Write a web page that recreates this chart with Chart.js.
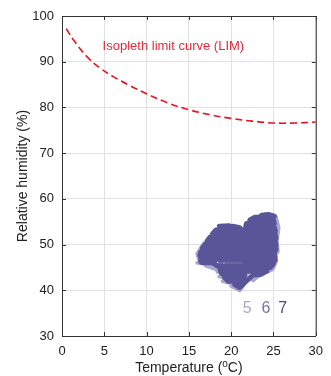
<!DOCTYPE html>
<html>
<head>
<meta charset="utf-8">
<script src="https://cdn.jsdelivr.net/npm/chart.js@4"></script>
<style>
  html, body { margin: 0; padding: 0; background: #fff; }
  #wrap { width: 331px; height: 376px; }
</style>
</head>
<body>
<div id="wrap"><canvas id="myChart" width="331" height="376"></canvas></div>
<script>
// Isopleth limit curve (LIM)
var limTemp = [0.5, 1.5, 3, 4.5, 6, 8, 10, 12.5, 15, 17.5, 20, 22.5, 25, 27.5, 30];
var limRH   = [97.2, 94.4, 91.0, 88.6, 86.8, 84.8, 83.0, 81.0, 79.5, 78.4, 77.6, 77.0, 76.6, 76.6, 76.8];

// measured trajectories, sensors 5, 6, 7
var traj5Temp = [17.6, 16.6, 16.0, 16.2, 18.0, 16.0, 18.4, 17.0, 18.3, 18.4, 21.2, 18.6, 21.0, 19.0, 20.8, 20.0, 21.0, 21.4,
                 21.8, 22.6, 23.2, 24.2, 24.9, 25.3, 23.6, 25.5, 25.4, 25.6, 25.3];
var traj5RH   = [52.0, 49.8, 48.0, 46.8, 47.2, 46.0, 45.6, 45.4, 44.6, 44.0, 44.4, 43.0, 42.6, 42.0, 41.2, 41.0, 40.0, 41.0,
                 43.0, 42.2, 43.2, 44.0, 44.6, 46.4, 45.0, 48.4, 51.0, 53.6, 56.0];

var traj6Temp = [16.4, 16.8, 17.2, 17.6, 18.0, 18.4, 18.8, 19.2, 19.6, 20.0, 20.4, 20.8, 21.1, 21.6, 22.0, 22.4, 22.8, 23.2, 23.6, 24.0, 24.4, 24.8, 25.1, 25.2];
var traj6RH   = [46.2, 49.2, 46.4, 51.4, 46.0, 53.0, 45.2, 53.6, 42.0, 52.0, 41.2, 51.6, 40.8, 50.4, 44.0, 55.4, 43.4, 56.0, 44.0, 56.4, 44.8, 56.2, 46.4, 53.0];

var traj7Temp = [18.6, 19.8, 20.6, 18.2, 17.8, 21.0, 21.4, 17.5, 17.2, 21.8, 21.8, 16.9, 16.6, 21.8, 21.8, 16.4, 16.3, 21.8, 21.8, 16.4, 16.6, 17.8,
                 18.5, 21.9, 21.8, 18.7, 18.9, 21.6, 21.5, 19.2, 19.7, 21.4, 21.2, 20.5, 21.0,
                 22.6, 23.4, 24.2, 22.2, 21.8, 24.6, 25.0, 21.6, 21.6, 25.2, 25.2, 21.6, 21.6, 25.1, 25.3, 21.6, 21.6, 25.3, 25.2, 21.7, 21.7, 25.3,
                 25.2, 21.6, 21.6, 25.2, 25.1, 21.7, 21.8, 25.1, 25.0, 22.2, 22.8, 25.1, 24.4, 23.6,
                 21.4, 21.0, 20.2, 19.4, 19.0];
var traj7RH   = [54.0, 54.1, 53.2, 53.2, 52.4, 52.4, 51.6, 51.6, 50.8, 50.8, 50.0, 50.0, 49.2, 49.2, 48.4, 48.4, 47.6, 47.6, 46.8, 46.8, 46.0, 46.0,
                 45.2, 45.2, 44.4, 44.4, 43.6, 43.6, 42.8, 42.8, 42.0, 42.0, 41.2, 41.2, 40.6,
                 43.4, 43.4, 44.2, 44.2, 45.0, 45.0, 45.8, 45.8, 46.6, 46.6, 47.4, 47.4, 48.2, 48.2, 49.0, 49.0, 49.8, 49.8, 50.6, 50.6, 51.4, 51.4,
                 52.2, 52.2, 53.0, 53.0, 53.8, 53.8, 54.6, 54.6, 55.4, 55.4, 56.0, 56.2, 56.6, 56.4,
                 52.8, 53.7, 54.0, 53.4, 52.4];

var xTicks = [0, 5, 10, 15, 20, 25, 30];
var yTicks = [30, 40, 50, 60, 70, 80, 90, 100];

var sensorLabels = ["5", "6", "7"];
var sensorColors = ["#aaa8d0", "#7773ad", "#4d488c"];
var sensorLabelTemp = [21.9, 24.1, 26.1];
var sensorLabelRH = 35.9;

function toPoints(xs, ys) {
  return xs.map(function (x, i) { return { x: x, y: ys[i] }; });
}

var FONT = "'Liberation Sans', Arial, sans-serif";

var decorPlugin = {
  id: "decor",
  afterDraw: function (chart) {
    var ctx = chart.ctx;
    var a = chart.chartArea;
    var xs = chart.scales.x, ys = chart.scales.y;
    ctx.save();
    // box on top and right
    ctx.strokeStyle = "#333";
    ctx.lineWidth = 1;
    ctx.beginPath();
    ctx.moveTo(a.left, a.top + 0.5);
    ctx.lineTo(a.right + 0.5, a.top + 0.5);
    ctx.lineTo(a.right + 0.5, a.bottom);
    ctx.stroke();
    // inward ticks
    ctx.beginPath();
    xTicks.forEach(function (t) {
      var px = Math.round(xs.getPixelForValue(t)) + 0.5;
      ctx.moveTo(px, a.bottom); ctx.lineTo(px, a.bottom - 4);
      ctx.moveTo(px, a.top); ctx.lineTo(px, a.top + 4);
    });
    yTicks.forEach(function (t) {
      var py = Math.round(ys.getPixelForValue(t)) + 0.5;
      ctx.moveTo(a.left, py); ctx.lineTo(a.left + 4, py);
      ctx.moveTo(a.right, py); ctx.lineTo(a.right - 4, py);
    });
    ctx.stroke();

    // LIM label
    ctx.fillStyle = "#e8283a";
    ctx.font = "13px " + FONT;
    ctx.textAlign = "left";
    ctx.textBaseline = "middle";
    ctx.fillText("Isopleth limit curve (LIM)", xs.getPixelForValue(4.8), ys.getPixelForValue(93.4));

    // sensor labels
    ctx.font = "16px " + FONT;
    ctx.textAlign = "center";
    sensorLabels.forEach(function (s, i) {
      ctx.fillStyle = sensorColors[i];
      ctx.fillText(s, xs.getPixelForValue(sensorLabelTemp[i]), ys.getPixelForValue(sensorLabelRH));
    });

    // axis titles
    ctx.fillStyle = "#222";
    ctx.font = "14px " + FONT;
    ctx.save();
    ctx.translate(23, (a.top + a.bottom) / 2);
    ctx.rotate(-Math.PI / 2);
    ctx.textAlign = "center";
    ctx.fillText("Relative humidity (%)", 0, 0);
    ctx.restore();

    var cx = (a.left + a.right) / 2, cy = 368;
    var p1 = "Temperature (", p2 = "o", p3 = "C)";
    ctx.font = "14px " + FONT;
    var w1 = ctx.measureText(p1).width, w3 = ctx.measureText(p3).width;
    ctx.font = "10px " + FONT;
    var w2 = ctx.measureText(p2).width;
    var x0 = cx - (w1 + w2 + w3) / 2;
    ctx.textAlign = "left";
    ctx.font = "14px " + FONT;
    ctx.fillText(p1, x0, cy);
    ctx.font = "10px " + FONT;
    ctx.fillText(p2, x0 + w1, cy - 4);
    ctx.font = "14px " + FONT;
    ctx.fillText(p3, x0 + w1 + w2, cy);
    ctx.restore();
  }
};

var ctx = document.getElementById("myChart").getContext("2d");

var trajStyle = function (color, width) {
  return {
    borderColor: color,
    backgroundColor: color,
    borderWidth: width,
    pointRadius: 0,
    tension: 0,
    borderJoinStyle: "round",
    borderCapStyle: "round",
    fill: false
  };
};

// Chart.js paints the last dataset first, so 5 ends up underneath and LIM on top
var myChart = new Chart(ctx, {
  type: "line",
  data: {
    datasets: [
      {
        label: "LIM",
        data: toPoints(limTemp, limRH),
        borderColor: "#e8141e",
        borderWidth: 1.6,
        borderDash: [7, 4],
        pointRadius: 0,
        tension: 0.4,
        fill: false
      },
      Object.assign({ label: "7", data: toPoints(traj7Temp, traj7RH) }, trajStyle("#5a5598", 5)),
      Object.assign({ label: "6", data: toPoints(traj6Temp, traj6RH) }, trajStyle("#6a66a4", 5)),
      Object.assign({ label: "5", data: toPoints(traj5Temp, traj5RH) }, trajStyle("#a9a7cf", 4))
    ]
  },
  plugins: [decorPlugin],
  options: {
    responsive: false,
    animation: false,
    events: [],
    layout: { padding: { top: 16, right: 11, left: 0, bottom: 0 } },
    plugins: {
      legend: { display: false },
      tooltip: { enabled: false }
    },
    scales: {
      x: {
        type: "linear",
        min: 0,
        max: 30,
        afterBuildTicks: function (scale) {
          scale.ticks = xTicks.map(function (v) { return { value: v }; });
        },
        afterFit: function (scale) { scale.height = 40; },
        grid: { color: "#e2e2e2", drawTicks: false },
        border: { display: true, color: "#333", width: 1 },
        ticks: { padding: 8, color: "#222", font: { size: 13, family: FONT }, maxRotation: 0 }
      },
      y: {
        type: "linear",
        min: 30,
        max: 100,
        afterBuildTicks: function (scale) {
          scale.ticks = yTicks.map(function (v) { return { value: v }; });
        },
        afterFit: function (scale) { scale.width = 62; },
        grid: { color: "#e2e2e2", drawTicks: false },
        border: { display: true, color: "#333", width: 1 },
        ticks: { padding: 8, color: "#222", font: { size: 13, family: FONT } }
      }
    }
  }
});
</script>
</body>
</html>
